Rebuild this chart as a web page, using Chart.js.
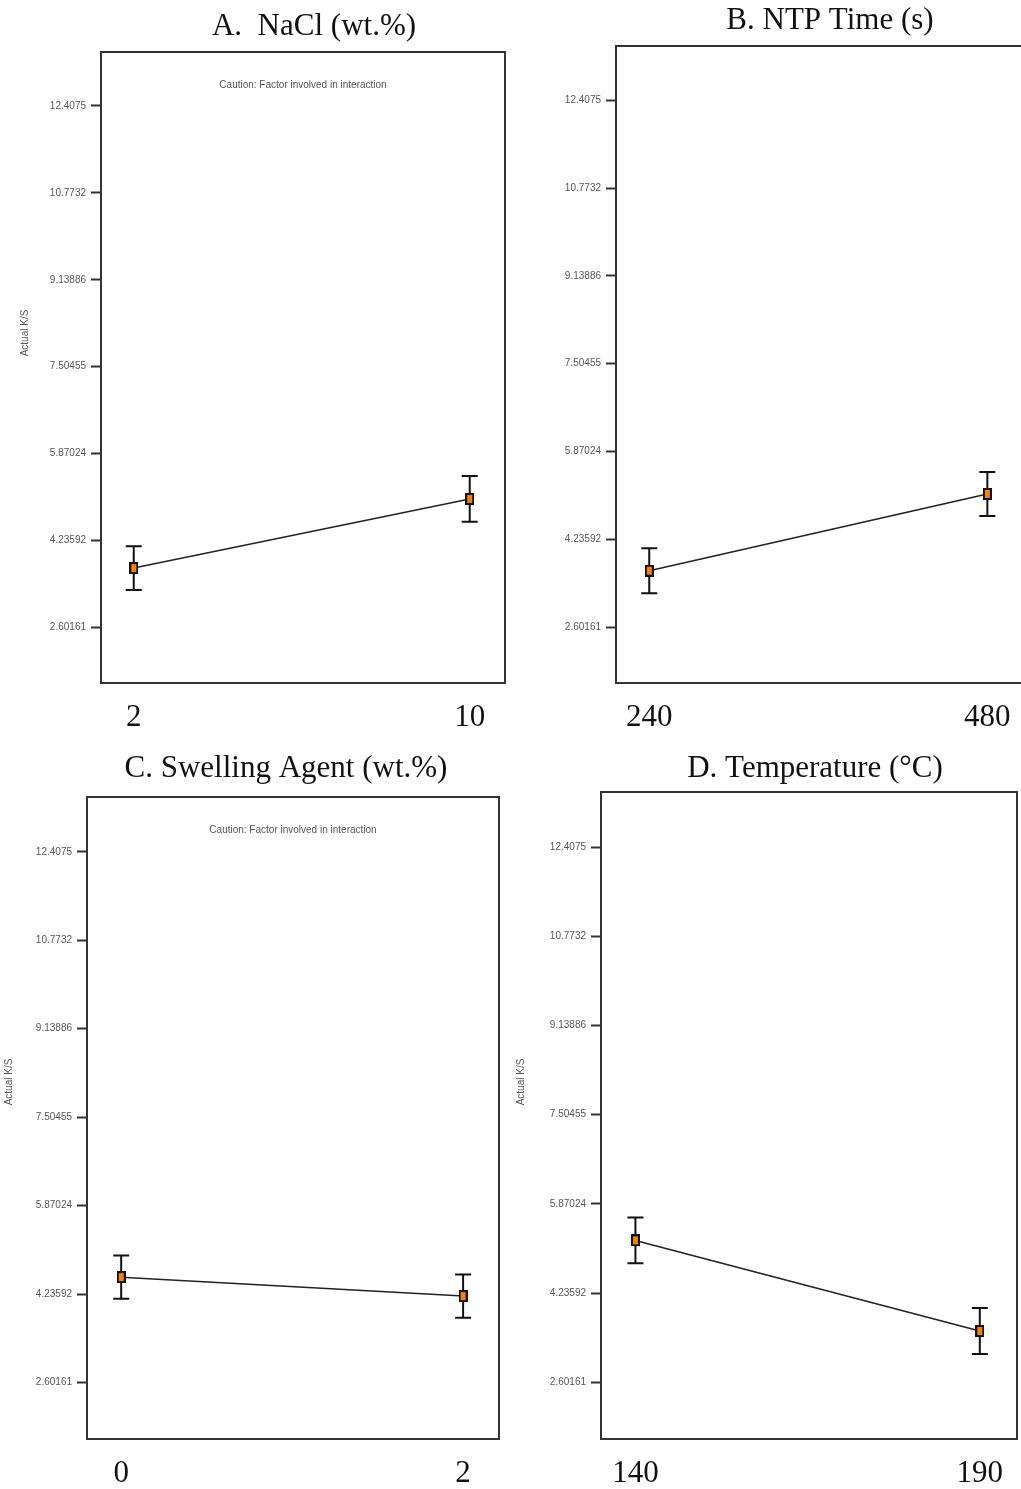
<!DOCTYPE html>
<html>
<head>
<meta charset="utf-8">
<title>Actual K/S one-factor plots</title>
<script src="https://cdn.jsdelivr.net/npm/chart.js@4.4.1/dist/chart.umd.min.js"></script>
<style>
body{margin:0;background:#fff}
#wrap{position:relative;width:1021px;height:1489px;overflow:hidden;background:#fff}
#wrap canvas{position:absolute}
</style>
</head>
<body>
<div id="wrap">
<canvas id="cA"></canvas>
<canvas id="cB"></canvas>
<canvas id="cC"></canvas>
<canvas id="cD"></canvas>
</div>
<script>
// factor levels, predicted K/S and LSD half-widths
const naclLevels = [2, 10]
const naclKS = [3.72, 5.02]
const naclLSD = [0.41, 0.43]

const ntpLevels = [240, 480]
const ntpKS = [3.65, 5.08]
const ntpLSD = [0.42, 0.41]

const swellLevels = [0, 2]
const swellKS = [4.55, 4.20]
const swellLSD = [0.40, 0.40]

const tempLevels = [140, 190]
const tempKS = [5.20, 3.54]
const tempLSD = [0.42, 0.42]

const panelTitles = ["A.  NaCl (wt.%)", "B. NTP Time (s)", "C. Swelling Agent (wt.%)", "D. Temperature (°C)"]
const yTicks = [2.60161, 4.23592, 5.87024, 7.50455, 9.13886, 10.7732, 12.4075]
const yTickLabels = ["2.60161", "4.23592", "5.87024", "7.50455", "9.13886", "10.7732", "12.4075"]
const yTitle = "Actual K/S"
const cautionText = "Caution: Factor involved in interaction"

const SERIF = "'Liberation Serif', 'Times New Roman', serif"
const SANS = "'Liberation Sans', Arial, sans-serif"

// canvas placement and plot box of every panel
// (B and D run past the right edge so the last x label never squeezes the box)
const panels = [
  {id: "cA", title: panelTitles[0], levels: naclLevels, ks: naclKS, lsd: naclLSD, caution: true, yTitle: true,
   box: {left: 0, top: 0, w: 520, h: 745}, area: {l: 101, t: 52, r: 505, b: 683},
   xRange: [1.22, 10.84], titleAt: [314, 35], yTitleAt: [25, 333]},
  {id: "cB", title: panelTitles[1], levels: ntpLevels, ks: ntpKS, lsd: ntpLSD, caution: false, yTitle: false,
   box: {left: 520, top: 0, w: 540, h: 745}, area: {l: 96, t: 46, r: 502, b: 683},
   xRange: [216.4, 504.6], titleAt: [310, 29], yTitleAt: null},
  {id: "cC", title: panelTitles[2], levels: swellLevels, ks: swellKS, lsd: swellLSD, caution: true, yTitle: true,
   box: {left: 0, top: 745, w: 520, h: 744}, area: {l: 87, t: 52, r: 499, b: 694},
   xRange: [-0.2, 2.21], titleAt: [286, 32], yTitleAt: [9, 337]},
  {id: "cD", title: panelTitles[3], levels: tempLevels, ks: tempKS, lsd: tempLSD, caution: false, yTitle: true,
   box: {left: 500, top: 745, w: 545, h: 744}, area: {l: 101, t: 47, r: 517, b: 694},
   xRange: [135, 195.4], titleAt: [315, 32], yTitleAt: [21, 337]}
]

// small orange square with a black rim used as point marker
function makeMarker(){
  let c = document.createElement("canvas")
  c.width = 9
  c.height = 12
  let g = c.getContext("2d")
  g.fillStyle = "#ff8000"
  g.fillRect(0, 0, 9, 12)
  g.strokeStyle = "#111"
  g.lineWidth = 2
  g.strokeRect(1, 1, 7, 10)
  return c
}
const marker = makeMarker()

// error bars, frame and the text around each plot
const decor = {
  id: "decor",
  beforeDatasetsDraw(chart, args, o){
    let p = panels[o.idx]
    let ctx = chart.ctx
    let xs = chart.scales.x
    let ys = chart.scales.y
    ctx.save()
    ctx.strokeStyle = "#111"
    ctx.lineWidth = 2
    p.levels.forEach((lv, i) => {
      let px = xs.getPixelForValue(lv)
      let top = ys.getPixelForValue(p.ks[i] + p.lsd[i])
      let bot = ys.getPixelForValue(p.ks[i] - p.lsd[i])
      ctx.beginPath()
      ctx.moveTo(px, top); ctx.lineTo(px, bot)
      ctx.moveTo(px - 8, top); ctx.lineTo(px + 8, top)
      ctx.moveTo(px - 8, bot); ctx.lineTo(px + 8, bot)
      ctx.stroke()
    })
    ctx.restore()
  },
  afterDraw(chart, args, o){
    let p = panels[o.idx]
    let ctx = chart.ctx
    let a = chart.chartArea
    ctx.save()
    ctx.strokeStyle = "#333"
    ctx.lineWidth = 2
    ctx.strokeRect(a.left, a.top, a.right - a.left, a.bottom - a.top)

    ctx.fillStyle = "#111"
    ctx.font = "31px " + SERIF
    ctx.textAlign = "center"
    ctx.textBaseline = "alphabetic"
    ctx.fillText(p.title, p.titleAt[0], p.titleAt[1])

    ctx.fillStyle = "#555"
    ctx.font = "10px " + SANS
    if (p.caution){
      ctx.textBaseline = "middle"
      ctx.fillText(cautionText, (a.left + a.right) / 2, a.top + 33)
    }
    if (p.yTitle){
      ctx.translate(p.yTitleAt[0], p.yTitleAt[1])
      ctx.rotate(-Math.PI / 2)
      ctx.textBaseline = "middle"
      ctx.fillText(yTitle, 0, 0)
    }
    ctx.restore()
  }
}

panels.forEach((p, i) => {
  let cv = document.getElementById(p.id)
  cv.width = p.box.w
  cv.height = p.box.h
  cv.style.left = p.box.left + "px"
  cv.style.top = p.box.top + "px"

  new Chart(cv, {
    type: "line",
    data: {
      datasets: [{
        data: p.levels.map((v, k) => ({x: v, y: p.ks[k]})),
        borderColor: "#222",
        borderWidth: 1.5,
        pointStyle: marker,
        pointRadius: 6,
        tension: 0
      }]
    },
    options: {
      responsive: false,
      animation: false,
      events: [],
      layout: {padding: {top: p.area.t, right: p.box.w - p.area.r, left: 0, bottom: 0}},
      plugins: {legend: {display: false}, tooltip: {enabled: false}, decor: {idx: i}},
      scales: {
        x: {
          type: "linear",
          min: p.xRange[0],
          max: p.xRange[1],
          afterFit: s => { s.height = p.box.h - p.area.b },
          afterBuildTicks: s => { s.ticks = p.levels.map(v => ({value: v})) },
          grid: {display: false},
          border: {display: false},
          ticks: {autoSkip: false, maxRotation: 0, color: "#111", padding: 8,
                  font: {family: SERIF, size: 31}, callback: v => String(v)}
        },
        y: {
          min: 1.56,
          max: 13.42,
          afterFit: s => { s.width = p.area.l },
          afterBuildTicks: s => { s.ticks = yTicks.map(v => ({value: v})) },
          grid: {drawOnChartArea: false, tickLength: 10, tickColor: "#333", tickWidth: 2},
          border: {display: false},
          ticks: {color: "#555", padding: 5, font: {family: SANS, size: 10},
                  callback: (v, k) => yTickLabels[k]}
        }
      }
    },
    plugins: [decor]
  })
})
</script>
</body>
</html>
